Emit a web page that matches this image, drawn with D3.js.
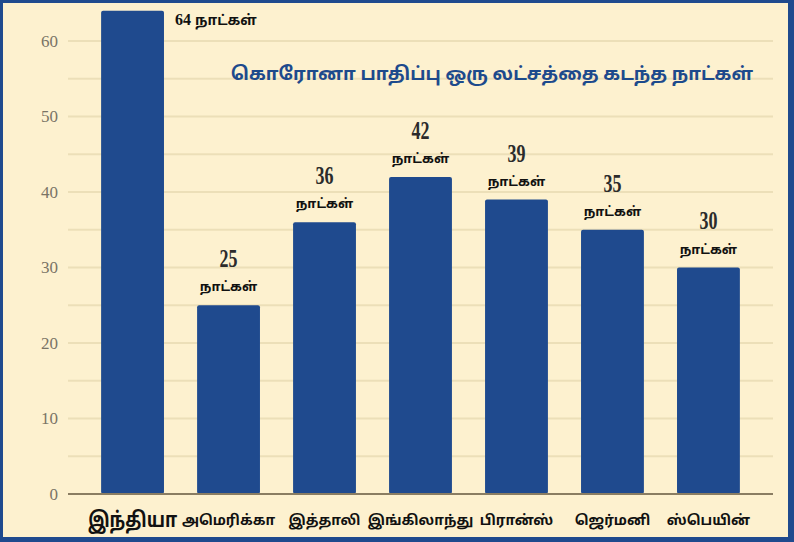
<!DOCTYPE html>
<html>
<head>
<meta charset="utf-8">
<script src="https://cdn.jsdelivr.net/npm/d3@7"></script>
<style>
  html, body { margin: 0; padding: 0; background: #1f4a8e; }
  svg { display: block; }
</style>
</head>
<body>
<svg id="chart" width="794" height="542"></svg>
<script>
// Data
const countries = ['இந்தியா', 'அமெரிக்கா', 'இத்தாலி', 'இங்கிலாந்து', 'பிரான்ஸ்', 'ஜெர்மனி', 'ஸ்பெயின்'];
const days = [64, 25, 36, 42, 39, 35, 30];
const yTicks = [0, 10, 20, 30, 40, 50, 60];
const gridTicks = [5, 10, 15, 20, 25, 30, 35, 40, 45, 50, 55, 60];
const unitLabel = 'நாட்கள்';
const title = 'கொரோனா பாதிப்பு ஒரு லட்சத்தை கடந்த நாட்கள்';

const svg = d3.select('#chart');
const tamilFont = "'Noto Sans Tamil', 'Noto Serif Tamil', 'Lohit Tamil', 'Noto Sans', sans-serif";
const numFont = "'Liberation Serif', 'DejaVu Serif', serif";

// squeeze text horizontally around its own x
const squeeze = (cx, k) => `translate(${cx},0) scale(${k},1) translate(${-cx},0)`;

// Frame
svg.append('rect')
  .attr('x', 0).attr('y', 0).attr('width', 794).attr('height', 542)
  .attr('fill', '#1f4a8e');
svg.append('rect')
  .attr('x', 3).attr('y', 3).attr('width', 785).attr('height', 534)
  .attr('fill', '#fdf1cf');

// Scales
const x = d3.scaleBand()
  .domain(countries)
  .range([68, 773])
  .padding(0.345);

const y = d3.scaleLinear()
  .domain([0, 60])
  .range([494, 41]);

// Gridlines
svg.append('g')
  .selectAll('line')
  .data(gridTicks)
  .join('line')
  .attr('x1', 68).attr('x2', 773)
  .attr('y1', d => y(d)).attr('y2', d => y(d))
  .attr('stroke', '#ecdfb8')
  .attr('stroke-width', 2);

// Y axis labels
const yAxis = svg.append('g')
  .attr('transform', 'translate(68,0)')
  .call(d3.axisLeft(y).tickValues(yTicks).tickSize(0).tickPadding(10));
yAxis.select('.domain').remove();
yAxis.selectAll('text')
  .attr('font-family', numFont)
  .attr('font-size', 17)
  .attr('fill', '#7a7466');

// Bars
svg.append('g')
  .selectAll('rect')
  .data(days)
  .join('rect')
  .attr('x', (d, i) => x(countries[i]))
  .attr('y', d => y(d))
  .attr('width', x.bandwidth())
  .attr('height', d => y(0) - y(d))
  .attr('rx', 2)
  .attr('fill', '#1f4a8e');

// Baseline
svg.append('line')
  .attr('x1', 68).attr('x2', 773)
  .attr('y1', y(0)).attr('y2', y(0))
  .attr('stroke', '#8a7d62')
  .attr('stroke-width', 2);

// X axis labels (India is bigger, squeezed a bit)
const xAxis = svg.append('g')
  .attr('transform', `translate(0,${y(0)})`)
  .call(d3.axisBottom(x).tickSize(0).tickPadding(0));
xAxis.select('.domain').remove();
xAxis.selectAll('text')
  .attr('font-family', tamilFont)
  .attr('font-weight', 'bold')
  .attr('fill', '#111')
  .attr('dy', null)
  .attr('y', (d, i) => i === 0 ? 33 : 31)
  .attr('font-size', (d, i) => i === 0 ? 21 : 14)
  .attr('transform', (d, i) => i === 0 ? 'scale(0.84,1)' : null);

// Value labels
const labels = svg.append('g');
days.forEach((d, i) => {
  const cx = x(countries[i]) + x.bandwidth() / 2;
  if (i === 0) {
    labels.append('text')
      .attr('x', x(countries[i]) + x.bandwidth() + 11)
      .attr('y', y(d) + 14)
      .attr('font-family', numFont)
      .attr('font-weight', 'bold')
      .attr('font-size', 16)
      .attr('fill', '#111')
      .text(d + ' ')
      .append('tspan')
      .attr('font-family', tamilFont)
      .attr('font-size', 14)
      .text(unitLabel);
  } else {
    labels.append('text')
      .attr('x', cx)
      .attr('y', y(d) - 38)
      .attr('text-anchor', 'middle')
      .attr('font-family', numFont)
      .attr('font-weight', 'bold')
      .attr('font-size', 25)
      .attr('fill', '#2b2b2b')
      .attr('transform', squeeze(cx, 0.72))
      .text(d);
    labels.append('text')
      .attr('x', cx)
      .attr('y', y(d) - 14)
      .attr('text-anchor', 'middle')
      .attr('font-family', tamilFont)
      .attr('font-weight', 'bold')
      .attr('font-size', 13)
      .attr('fill', '#111')
      .text(unitLabel);
  }
});

// Title
svg.append('text')
  .attr('x', 753)
  .attr('y', 80)
  .attr('text-anchor', 'end')
  .attr('font-family', tamilFont)
  .attr('font-weight', 'bold')
  .attr('font-size', 18.4)
  .attr('fill', '#1d4a8c')
  .text(title);
</script>
</body>
</html>
